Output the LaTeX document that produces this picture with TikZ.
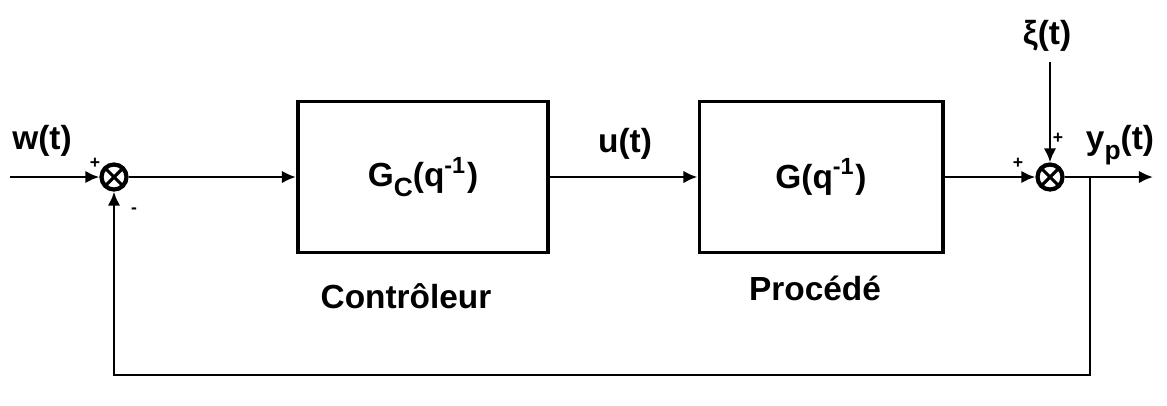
\documentclass[tikz,border=0pt]{standalone}
\usepackage{fontspec}
\setmainfont{Liberation Sans}
\usetikzlibrary{arrows.meta}

\tikzset{
  bloc/.style={draw, line width=1.1pt, minimum height=1.51cm},
  fleche/.style={-{Latex[length=4pt,width=3.6pt]}},
  somme/.style={circle, draw, line width=1.2pt, minimum size=0.25cm, inner sep=0pt,
    path picture={\draw[line width=0.9pt]
      (path picture bounding box.north west) -- (path picture bounding box.south east)
      (path picture bounding box.north east) -- (path picture bounding box.south west);}},
  signe/.style={font=\fontsize{5}{5}\selectfont\bfseries, inner sep=0pt}
}
\newcommand{\indbas}[1]{\raisebox{-0.55ex}{\fontsize{7.5}{8}\selectfont #1}}

\begin{document}
\begin{tikzpicture}[x=0.01cm, y=-0.01cm, line width=0.8pt,
    every node/.style={font=\fontsize{9.5}{11}\selectfont\bfseries}]
    \useasboundingbox (0,0) rectangle (1167,405);

    % blocs
    \node[bloc, minimum width=2.5cm] (ctrl) at (423,177) {G\indbas{C}(q\textsuperscript{-1})};
    \node[bloc, minimum width=2.43cm] (proc) at (821,177) {G(q\textsuperscript{-1})};
    \node (ctrlnom) at (406,296) {Contrôleur};
    \node (procnom) at (815,288) {Procédé};

    % comparateurs
    \node[somme] (s1) at (114,177) {};
    \node[somme] (s2) at (1050,177) {};
    \node[signe] at (95,163) {+};
    \node[signe] at (134,211) {-};
    \node[signe] at (1018,163) {+};
    \node[signe] at (1058,138) {+};

    % signaux
    \coordinate (entree) at (10,177);
    \coordinate (sortie) at (1153,177);
    \coordinate (pert) at (1050,62);
    \coordinate (branche) at (1090,177);
    \coordinate (bas) at (1090,375);
    \node (w) at (42,141) {w(t)};
    \node (u) at (625,144) {u(t)};
    \node (xi) at (1047,36) {ξ(t)};
    \node (yp) at (1120,145) {y\indbas{p}(t)};

    \draw[fleche] (entree) -- (s1);
    \draw[fleche] (s1) -- (ctrl);
    \draw[fleche] (ctrl) -- (proc);
    \draw[fleche] (proc) -- (s2);
    \draw[fleche] (pert) -- (s2);
    \draw[fleche] (s2) -- (sortie);
    % retour
    \draw[fleche] (branche) -- (bas) -| (s1);
\end{tikzpicture}
\end{document}
